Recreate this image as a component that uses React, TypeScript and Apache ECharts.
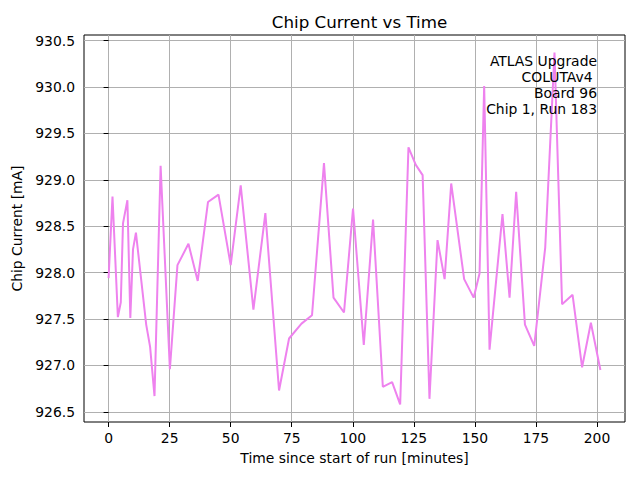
import React, { useEffect, useRef } from "react";
import * as echarts from "echarts";

const timeMinutes = [
  0, 1.6, 3.8, 5.0, 5.9, 7.7, 8.9, 10.0, 11.2, 15.4, 17.0, 18.8, 21.3, 25.1, 28.2,
  32.7, 36.5, 40.7, 45.0, 50.0, 54.1, 59.3, 64.2, 69.8, 73.9, 79.0, 83.3, 88.2,
  92.1, 96.4, 100.1, 104.5, 108.3, 112.3, 116.1, 119.4, 122.8, 125.8, 128.6,
  131.4, 134.7, 137.6, 140.3, 145.6, 149.5, 151.9, 153.8, 156.0, 161.3, 164.2,
  166.9, 170.5, 174.3, 178.8, 182.6, 185.7, 190.0, 193.9, 197.5, 201.4,
];
const chipCurrent = [
  927.94, 928.82, 927.52, 927.68, 928.53, 928.78, 927.51, 928.25, 928.43, 927.44,
  927.2, 926.67, 929.15, 926.96, 928.08, 928.31, 927.91, 928.76, 928.84, 928.08,
  928.94, 927.6, 928.64, 926.73, 927.29, 927.45, 927.54, 929.18, 927.73, 927.57,
  928.69, 927.22, 928.57, 926.77, 926.82, 926.58, 929.35, 929.16, 929.05, 926.64,
  928.35, 927.93, 928.96, 927.93, 927.73, 927.99, 930.01, 927.17, 928.63, 927.73,
  928.87, 927.44, 927.21, 928.27, 930.37, 927.66, 927.76, 926.98, 927.46, 926.95,
];
const xTicks = [0, 25, 50, 75, 100, 125, 150, 175, 200];
const yTicks = [926.5, 927.0, 927.5, 928.0, 928.5, 929.0, 929.5, 930.0, 930.5];
const annotationLines = ["ATLAS Upgrade", "COLUTAv4 ", "Board 96", "Chip 1, Run 183"];

const FONT = "DejaVu Sans";
const FS = 13.9;
const SPACE_W = 0.318 * FS;

export default function App() {
  const ref = useRef<HTMLDivElement>(null);
  useEffect(() => {
    if (!ref.current) return;
    const chart = echarts.init(ref.current, null, { renderer: "svg" });
    const xmin0 = Math.min(...timeMinutes);
    const xmax0 = Math.max(...timeMinutes);
    const ymin0 = Math.min(...chipCurrent);
    const ymax0 = Math.max(...chipCurrent);
    const xm = (xmax0 - xmin0) * 0.05;
    const ym = (ymax0 - ymin0) * 0.05;
    const data = timeMinutes.map((t, i) => [t, chipCurrent[i]]);

    const axisCommon = {
      axisLine: { show: false },
      axisTick: { show: true, length: 5, lineStyle: { color: "#000", width: 1 } },
      splitLine: { show: true, lineStyle: { color: "#b0b0b0", width: 1 } },
    };

    chart.setOption({
      animation: false,
      backgroundColor: "#fff",
      title: {
        text: "Chip Current vs Time",
        left: 354.5,
        top: 8,
        textAlign: "center",
        textStyle: { fontFamily: FONT, fontSize: 16.7, fontWeight: "normal", color: "#000" },
      },
      grid: {
        left: 84,
        right: 15,
        top: 35,
        bottom: 58,
        show: true,
        borderColor: "#000",
        borderWidth: 1,
        backgroundColor: "transparent",
      },
      xAxis: {
        type: "value",
        min: xmin0 - xm,
        max: xmax0 + xm,
        ...axisCommon,
        axisTick: { ...axisCommon.axisTick, customValues: xTicks },
        axisLabel: {
          customValues: xTicks,
          margin: 9,
          fontFamily: FONT,
          fontSize: FS,
          color: "#000",
        },
        name: "Time since start of run [minutes]",
        nameLocation: "middle",
        nameGap: 29,
        nameTextStyle: { fontFamily: FONT, fontSize: FS, color: "#000" },
      },
      yAxis: {
        type: "value",
        min: ymin0 - ym,
        max: ymax0 + ym,
        ...axisCommon,
        axisTick: { ...axisCommon.axisTick, customValues: yTicks },
        axisLabel: {
          customValues: yTicks,
          margin: 9,
          fontFamily: FONT,
          fontSize: FS,
          color: "#000",
          formatter: (v: number) => v.toFixed(1),
        },
        name: "Chip Current [mA]",
        nameLocation: "middle",
        nameGap: 54,
        nameTextStyle: { fontFamily: FONT, fontSize: FS, color: "#000" },
      },
      graphic: annotationLines.map((line, i) => {
        const trimmed = line.replace(/\s+$/, "");
        const trailing = line.length - trimmed.length;
        return {
          type: "text",
          x: 597 - trailing * SPACE_W,
          y: 61 + i * 16,
          z: 100,
          style: {
            text: trimmed,
            fill: "#000",
            font: `${FS}px "${FONT}"`,
            textAlign: "right",
            textVerticalAlign: "middle",
            align: "right",
            verticalAlign: "middle",
          },
        };
      }),
      series: [
        {
          type: "line",
          data,
          showSymbol: false,
          symbol: "none",
          lineStyle: { color: "#ee82ee", width: 2 },
          z: 3,
        },
      ],
    });
    return () => chart.dispose();
  }, []);
  return (
    <div
      ref={ref}
      style={{ position: "fixed", left: 0, top: 0, width: 640, height: 480 }}
    />
  );
}
